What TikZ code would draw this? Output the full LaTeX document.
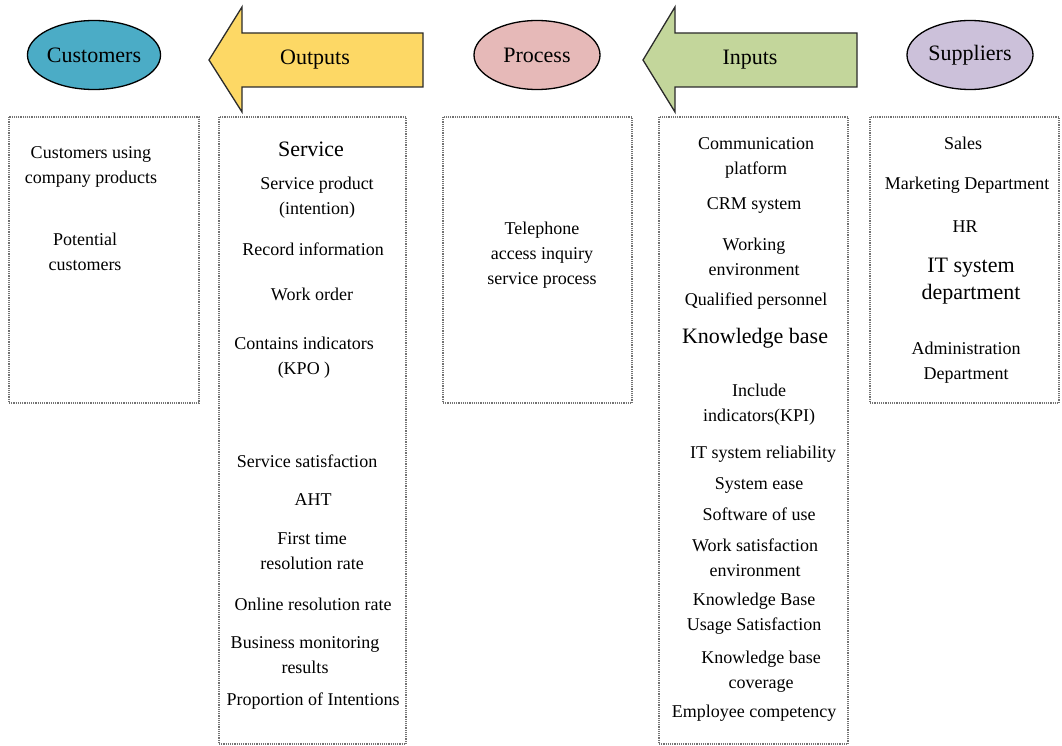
\documentclass[tikz,border=0pt]{standalone}
\usepackage{fontspec}
\setmainfont{Liberation Serif}
\usetikzlibrary{shapes.geometric}
\definecolor{custfill}{HTML}{4BACC6}
\definecolor{procfill}{HTML}{E6B9B8}
\definecolor{suppfill}{HTML}{CCC1DA}
\definecolor{outfill}{HTML}{FDD865}
\definecolor{infill}{HTML}{C3D69B}
\definecolor{edge}{HTML}{2B2B2B}
\tikzset{
  headnode/.style={ellipse, draw=black, line width=1.3pt, minimum width=126pt, minimum height=69pt, inner sep=0pt, font=\fontsize{22}{26}\selectfont},
  bigarrow/.style={draw=edge, line width=1.3pt, line join=miter},
  arrowlabel/.style={inner sep=0pt, font=\fontsize{22}{26}\selectfont},
  panel/.style={draw=black!55, densely dotted, line width=1.2pt},
  item/.style={align=center, inner sep=0pt, yshift=-2pt, font=\fontsize{18}{25}\selectfont},
  bigitem/.style={align=center, inner sep=0pt, yshift=-2pt, font=\fontsize{22}{27}\selectfont}
}
\begin{document}
\begin{tikzpicture}[x=1pt, y=-1pt]
\useasboundingbox (0,0) rectangle (1062,746);
\fill[white] (0,0) rectangle (1062,746);

% header ellipses
\node[headnode, fill=custfill] (customers) at (94,55) {Customers};
\node[headnode, fill=procfill] (process) at (537,55) {Process};
\node[headnode, fill=suppfill] (suppliers) at (970,55) {Suppliers};

% big arrows
\draw[bigarrow, fill=outfill] (209,60) -- (242,7) -- (242,33) -- (423,33) -- (423,87) -- (242,87) -- (242,112) -- cycle;
\node[arrowlabel] (outputs) at (315,60) {Outputs};
\draw[bigarrow, fill=infill] (643,60) -- (675,7) -- (675,33) -- (857,33) -- (857,87) -- (675,87) -- (675,112) -- cycle;
\node[arrowlabel] (inputs) at (750,60) {Inputs};

% panels
\draw[panel] (9,117) rectangle (199,403);
\draw[panel] (219,117) rectangle (406,744);
\draw[panel] (443,117) rectangle (632,403);
\draw[panel] (659,117) rectangle (848,744);
\draw[panel] (870,117) rectangle (1059,403);

% customers panel
\node[item] (c1) at (91,165) {Customers using\\company products};
\node[item] (c2) at (85,250) {Potential\\customers};

% outputs panel
\node[bigitem] (o1) at (311,147) {Service};
\node[item] (o2) at (317,196) {Service product\\(intention)};
\node[item] (o3) at (313,247) {Record information};
\node[item] (o4) at (312,292) {Work order};
\node[item] (o5) at (304,356) {Contains indicators\\(KPO )};
\node[item] (o6) at (307,459) {Service satisfaction};
\node[item] (o7) at (313,498) {AHT};
\node[item] (o8) at (312,549) {First time\\resolution rate};
\node[item] (o9) at (313,602) {Online resolution rate};
\node[item] (o10) at (305,653) {Business monitoring\\results};
\node[item] (o11) at (313,699) {Proportion of Intentions};

% process panel
\node[item] (p1) at (542,253) {Telephone\\access inquiry\\service process};

% inputs panel
\node[item] (i1) at (756,156) {Communication\\platform};
\node[item] (i2) at (754,203) {CRM system};
\node[item] (i3) at (754,255) {Working\\environment};
\node[item] (i4) at (756,299) {Qualified personnel};
\node[bigitem] (i5) at (755,336) {Knowledge base};
\node[item] (i6) at (759,403) {Include\\indicators(KPI)};
\node[item] (i7) at (763,452) {IT system reliability};
\node[item] (i8) at (759,483) {System ease};
\node[item] (i9) at (759,512) {Software of use};
\node[item] (i10) at (755,556) {Work satisfaction\\environment};
\node[item] (i11) at (754,612) {Knowledge Base\\Usage Satisfaction};
\node[item] (i12) at (761,670) {Knowledge base\\coverage};
\node[item] (i13) at (754,711) {Employee competency};

% suppliers panel
\node[item] (s1) at (963,141) {Sales};
\node[item] (s2) at (967,183) {Marketing Department};
\node[item] (s3) at (965,225) {HR};
\node[bigitem] (s4) at (971,279) {IT system\\department};
\node[item] (s5) at (966,361) {Administration\\Department};
\end{tikzpicture}
\end{document}
